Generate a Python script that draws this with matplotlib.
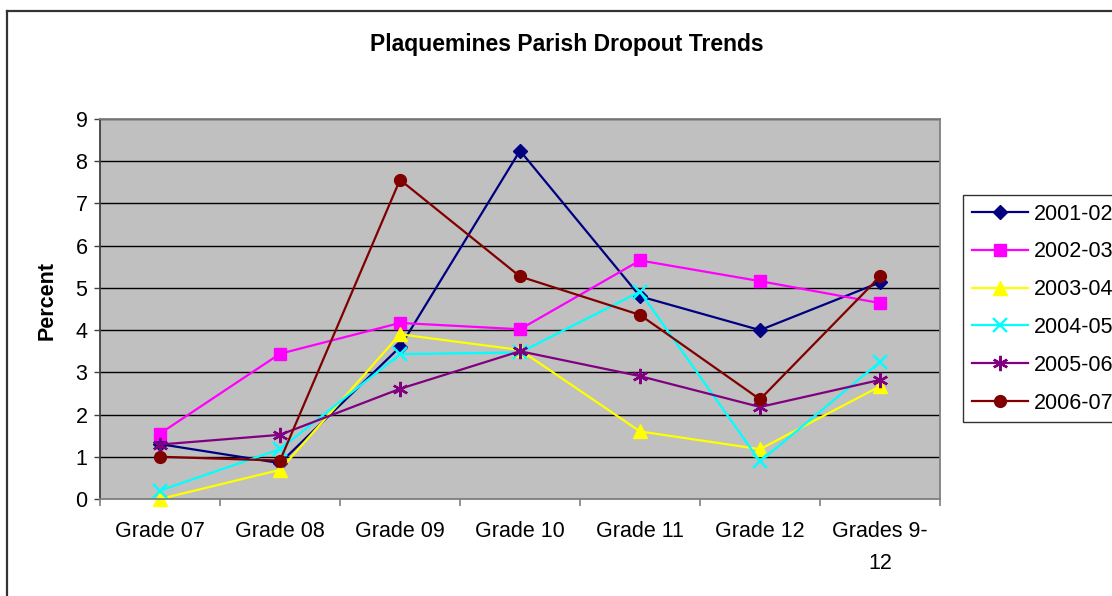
import matplotlib
matplotlib.use("Agg")
import matplotlib.pyplot as plt
from matplotlib.lines import Line2D
import numpy as np

plt.rcParams['font.family'] = ['Liberation Sans', 'DejaVu Sans']

# data
grades = ['Grade 07', 'Grade 08', 'Grade 09', 'Grade 10', 'Grade 11', 'Grade 12', 'Grades 9-\n12']
years = ['2001-02', '2002-03', '2003-04', '2004-05', '2005-06', '2006-07']
y2001_02 = [1.3, 0.85, 3.6, 8.25, 4.8, 4.0, 5.13]
y2002_03 = [1.55, 3.44, 4.17, 4.02, 5.65, 5.16, 4.64]
y2003_04 = [0.0, 0.69, 3.9, 3.53, 1.6, 1.18, 2.67]
y2004_05 = [0.2, 1.18, 3.43, 3.47, 4.91, 0.89, 3.25]
y2005_06 = [1.29, 1.52, 2.61, 3.5, 2.91, 2.18, 2.82]
y2006_07 = [1.0, 0.91, 7.56, 5.27, 4.36, 2.36, 5.27]

series = [y2001_02, y2002_03, y2003_04, y2004_05, y2005_06, y2006_07]
colors = ['#000080', '#FF00FF', '#FFFF00', '#00FFFF', '#800080', '#800000']
markers = ['D', 's', '^', 'x', (6, 2, 0), 'o']
msizes = [7.5, 8, 10, 10, 11, 8.5]

W, H = 1112, 596
fig = plt.figure(figsize=(W / 100, H / 100), dpi=100, facecolor='white')
ax = fig.add_axes([100 / W, 1 - 499 / H, 840 / W, 380 / H])
ax.set_facecolor('#C0C0C0')

x = np.arange(len(grades))
for vals, name, c, m, ms in zip(series, years, colors, markers, msizes):
    ax.plot(x, vals, color=c, marker=m, markersize=ms, linewidth=1.6,
            markeredgewidth=1.7 if m in ('x', (6, 2, 0)) else 1.0,
            markeredgecolor=c, markerfacecolor=c, label=name, clip_on=False)

ax.set_xlim(-0.5, len(grades) - 0.5)
ax.set_ylim(0, 9)
ax.set_yticks(range(0, 10))
ax.yaxis.grid(True, color='black', linewidth=1.0)
ax.set_axisbelow(True)

ax.set_xticks(x)
ax.set_xticklabels(grades, fontsize=15.5, linespacing=1.7)
ax.set_xticks(np.arange(-0.5, len(grades), 1), minor=True)
ax.tick_params(axis='x', which='major', length=0, pad=16)
ax.tick_params(axis='x', which='minor', length=5, color='#808080', width=1.2)
ax.tick_params(axis='y', length=4, color='#404040', width=1.0, pad=5, labelsize=15.5)

for side in ['top', 'right', 'bottom']:
    ax.spines[side].set_color('#808080')
    ax.spines[side].set_linewidth(1.3)
ax.spines['left'].set_color('#404040')
ax.spines['left'].set_linewidth(1.3)

fig.text(567 / W, 1 - 44 / H, 'Plaquemines Parish Dropout Trends',
         ha='center', va='center', fontsize=16.5, fontweight='bold')
fig.text(47 / W, 1 - 300 / H, 'Percent', rotation=90, ha='center', va='center',
         fontsize=15.5, fontweight='bold')

leg = ax.legend(loc='upper left', bbox_to_anchor=(963 / W, 1 - 195 / H),
                bbox_transform=fig.transFigure, fontsize=15.5, frameon=True,
                fancybox=False, edgecolor='black', handlelength=2.6,
                handletextpad=0.3, labelspacing=0.78, borderpad=0.4,
                borderaxespad=0)
leg.get_frame().set_linewidth(1.0)

# chart area border (cropped on the right and bottom)
fig.add_artist(Line2D([7 / W, 7 / W], [0, 1 - 10.5 / H], transform=fig.transFigure,
                      color='#333333', linewidth=1.6))
fig.add_artist(Line2D([7 / W, 1], [1 - 10.5 / H, 1 - 10.5 / H], transform=fig.transFigure,
                      color='#333333', linewidth=1.6))

fig.savefig('out.png', dpi=100, facecolor='white')
